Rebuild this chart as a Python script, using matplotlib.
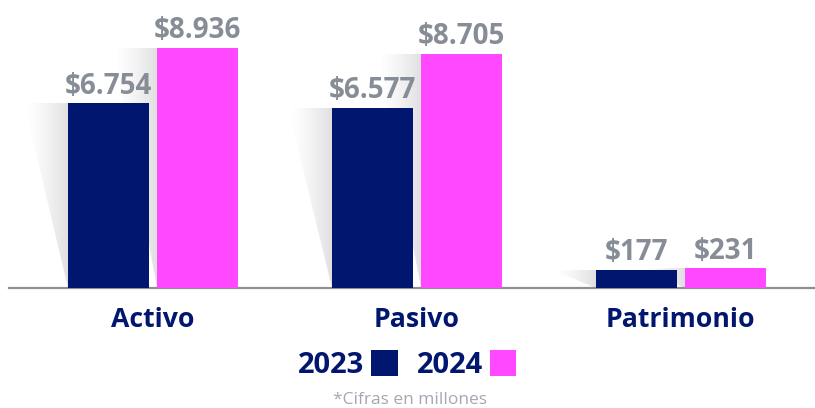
import numpy as np
import matplotlib
matplotlib.use("Agg")
import matplotlib.pyplot as plt
from matplotlib.patches import Polygon, Patch

categories = ["Activo", "Pasivo", "Patrimonio"]
series_labels = ["2023", "2024"]
values_2023 = [6754, 6577, 177]
values_2024 = [8936, 8705, 231]
footnote = "*Cifras en millones"

NAVY = "#00166f"
MAGENTA = "#ff48ff"
LABEL_GRAY = "#878d97"
AXIS_GRAY = "#8a8f99"
NOTE_GRAY = "#a3a8b1"
FONT = ["Open Sans", "DejaVu Sans"]

plt.rcParams["font.family"] = FONT

fig = plt.figure(figsize=(8.15, 4.08), dpi=100)
ax = fig.add_axes([9 / 815, 120 / 408, 806 / 815, 288 / 408])
ax.set_autoscale_on(False)

floor = -550          # visual baseline of the infographic
px_per_unit = 0.025326
ylim = (floor, floor + 288 / px_per_unit)
xlim = (-0.5463, 2.5097)
ax.set_xlim(*xlim)
ax.set_ylim(*ylim)

x = np.arange(len(categories))
width = 0.307
off = 0.1687
shadow_w = 0.167

t = np.linspace(0, 1, 256)
grad = np.zeros((1, 256, 4))
grad[..., 3] = 0.13 * t ** 1.4

for vals, color, sign in [(values_2023, NAVY, -1), (values_2024, MAGENTA, 1)]:
    vals = np.asarray(vals, float)
    xs = x + sign * off
    ax.bar(xs, vals - floor, bottom=floor, width=width, color=color,
           zorder=3, linewidth=0)
    for xc, v in zip(xs, vals):
        left = xc - width / 2
        poly = Polygon([(left - shadow_w, v), (left, v), (left, floor)],
                       closed=True, transform=ax.transData,
                       facecolor="none", edgecolor="none")
        ax.add_patch(poly)
        im = ax.imshow(grad, extent=[left - shadow_w, left, floor, v],
                       aspect="auto", origin="lower", zorder=2,
                       interpolation="bilinear")
        im.set_clip_path(poly)
        ax.annotate(f"${int(v):,}".replace(",", "."), xy=(xc, v),
                    xytext=(0, 6.8), textcoords="offset points",
                    ha="center", va="baseline", fontsize=20,
                    fontweight="bold", color=LABEL_GRAY, zorder=4)

for xc, cat in zip(x, categories):
    ax.annotate(cat, xy=(xc, 0), xycoords=("data", "axes fraction"),
                xytext=(0, -28.1), textcoords="offset points",
                ha="center", va="baseline", fontsize=19.2,
                fontweight="bold", color=NAVY, annotation_clip=False)

ax.set_xlim(*xlim)
ax.set_ylim(*ylim)
for s in ["top", "left", "right"]:
    ax.spines[s].set_visible(False)
ax.spines["bottom"].set_color(AXIS_GRAY)
ax.spines["bottom"].set_linewidth(1.6)
ax.set_xticks([])
ax.set_yticks([])
ax.patch.set_visible(False)

handles = [Patch(facecolor=NAVY, edgecolor="none"),
           Patch(facecolor=MAGENTA, edgecolor="none")]
fig.legend(handles, series_labels, loc="center",
           bbox_to_anchor=(407 / 815, 1 - 365 / 408), ncol=2, frameon=False,
           markerfirst=False,
           prop={"family": FONT, "weight": "bold", "size": 21},
           handlelength=0.9, handleheight=1.0, handletextpad=0.25,
           columnspacing=0.65, labelcolor=NAVY, borderpad=0)

fig.text(410 / 815, 1 - 400 / 408, footnote, ha="center", va="center",
         fontsize=12.5, color=NOTE_GRAY)

fig.savefig("out.png", dpi=100)
